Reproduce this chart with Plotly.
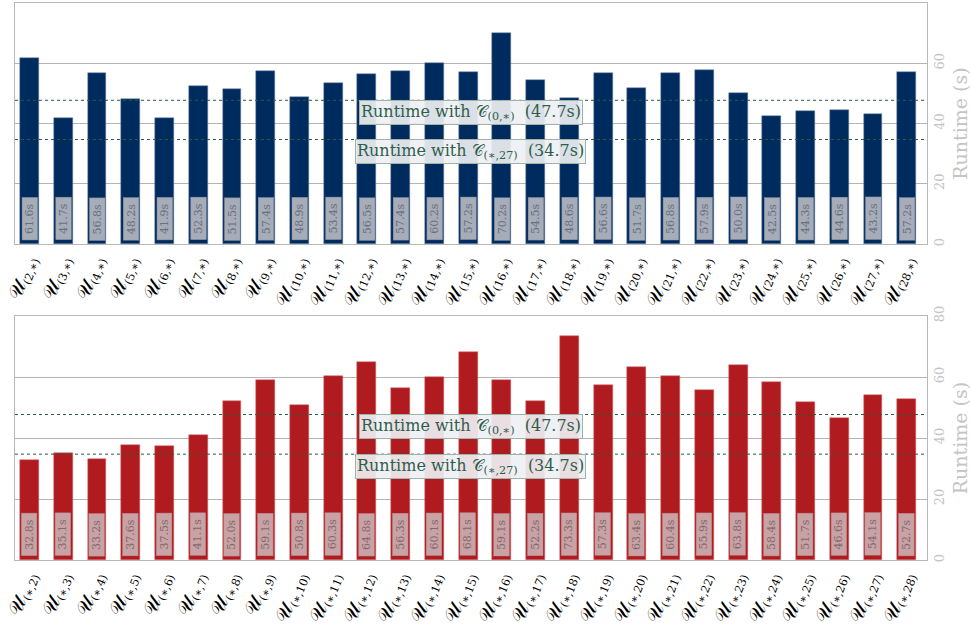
import plotly.graph_objects as go
from plotly.subplots import make_subplots

top_cats = [f"<span style='font-size:20px'>𝒰</span><sub>({i},∗)</sub>" for i in range(2, 29)]
bot_cats = [f"<span style='font-size:20px'>𝒰</span><sub>(∗,{i})</sub>" for i in range(2, 29)]
top_vals = [61.6, 41.7, 56.8, 48.2, 41.9, 52.3, 51.5, 57.4, 48.9, 53.4, 56.5, 57.4, 60.2, 57.2,
            70.2, 54.5, 48.6, 56.6, 51.7, 56.8, 57.9, 50.0, 42.5, 44.3, 44.6, 43.2, 57.2]
bot_vals = [32.8, 35.1, 33.2, 37.6, 37.5, 41.1, 52.0, 59.1, 50.8, 60.3, 64.8, 56.3, 60.1, 68.1,
            59.1, 52.2, 73.3, 57.3, 63.4, 60.4, 55.9, 63.8, 58.4, 51.7, 46.6, 54.1, 52.7]
ref_c0 = 47.7
ref_c27 = 34.7
y_ticks = [0, 20, 40, 60, 80]

BLUE = "#002b5e"
RED = "#b01b1f"
FONT = "DejaVu Serif"

fig = make_subplots(rows=2, cols=1)

fig.add_trace(go.Bar(x=top_cats, y=top_vals, marker=dict(color=BLUE, line=dict(color="#6f86a8", width=0.5)),
                     width=0.56, showlegend=False), row=1, col=1)
fig.add_trace(go.Bar(x=bot_cats, y=bot_vals, marker=dict(color=RED, line=dict(color="#d06a6c", width=0.5)),
                     width=0.56, showlegend=False), row=2, col=1)

xdom = [15 / 971, 927 / 971]
H = 628
fig.update_layout(
    width=971, height=628,
    margin=dict(l=0, r=0, t=0, b=0),
    plot_bgcolor="white", paper_bgcolor="white",
    font=dict(family=FONT),
    bargap=0,
    xaxis=dict(domain=xdom, anchor="y"),
    xaxis2=dict(domain=xdom, anchor="y2"),
    yaxis=dict(domain=[1 - 244 / H, 1 - 3 / H], anchor="x"),
    yaxis2=dict(domain=[1 - 560 / H, 1 - 316 / H], anchor="x2"),
)

for ax in ["xaxis", "xaxis2"]:
    fig.layout[ax].update(range=[-0.43, 26.6], tickangle=-68, automargin=False,
                          tickfont=dict(size=16, color="black", family=FONT),
                          showline=True, linecolor="#b8b8b8", mirror=True, showgrid=False, ticks="")
for ax in ["yaxis", "yaxis2"]:
    fig.layout[ax].update(range=[0, 80], side="right", tickvals=y_ticks, tickangle=-90, automargin=False,
                          tickfont=dict(size=13, color="#c4c4c4", family=FONT),
                          showgrid=True, gridcolor="#b4b4b4", gridwidth=1, zeroline=False,
                          showline=True, linecolor="#b8b8b8", mirror=True, ticks="",
                          title=dict(text="Runtime (s)", font=dict(size=19, color="#c4c4c4", family=FONT),
                                     standoff=8))

anns = []
shapes = []
for row, (cats, vals, fill, tcol, bcol) in enumerate([
        (top_cats, top_vals, "#a6acb8", "#68707e", "#8d95a3"),
        (bot_cats, bot_vals, "#c9a2a5", "#7e6a6c", "#b78d90")], start=1):
    xr = "x" if row == 1 else "x2"
    yr = "y" if row == 1 else "y2"
    for c, v in zip(cats, vals):
        anns.append(dict(x=c, y=8.4, xref=xr, yref=yr, text=f"{v:.1f}s", textangle=-90, showarrow=False,
                         width=40, height=13, align="center", valign="middle",
                         font=dict(size=11, color=tcol, family=FONT), bgcolor=fill, bordercolor=bcol,
                         borderwidth=0.5, borderpad=1))
    for val, sub in [(ref_c0, "(0,∗)"), (ref_c27, "(∗,27)")]:
        shapes.append(dict(type="line", xref=f"{xr} domain", yref=yr, x0=0, x1=1, y0=val, y1=val,
                           line=dict(color="#2c5a40", width=1, dash="dot")))
        anns.append(dict(x=13.08, y=val, xref=xr, yref=yr, yshift=-12, showarrow=False,
                         text=f"Runtime with 𝒞<sub>{sub}</sub>  ({val}s)",
                         font=dict(size=16, color="#2f5e4c", family=FONT),
                         bgcolor="rgba(238,240,243,0.92)", bordercolor="#9fb3a6", borderwidth=1, borderpad=1))

fig.update_layout(annotations=anns, shapes=shapes)
fig.write_html("out.html")
